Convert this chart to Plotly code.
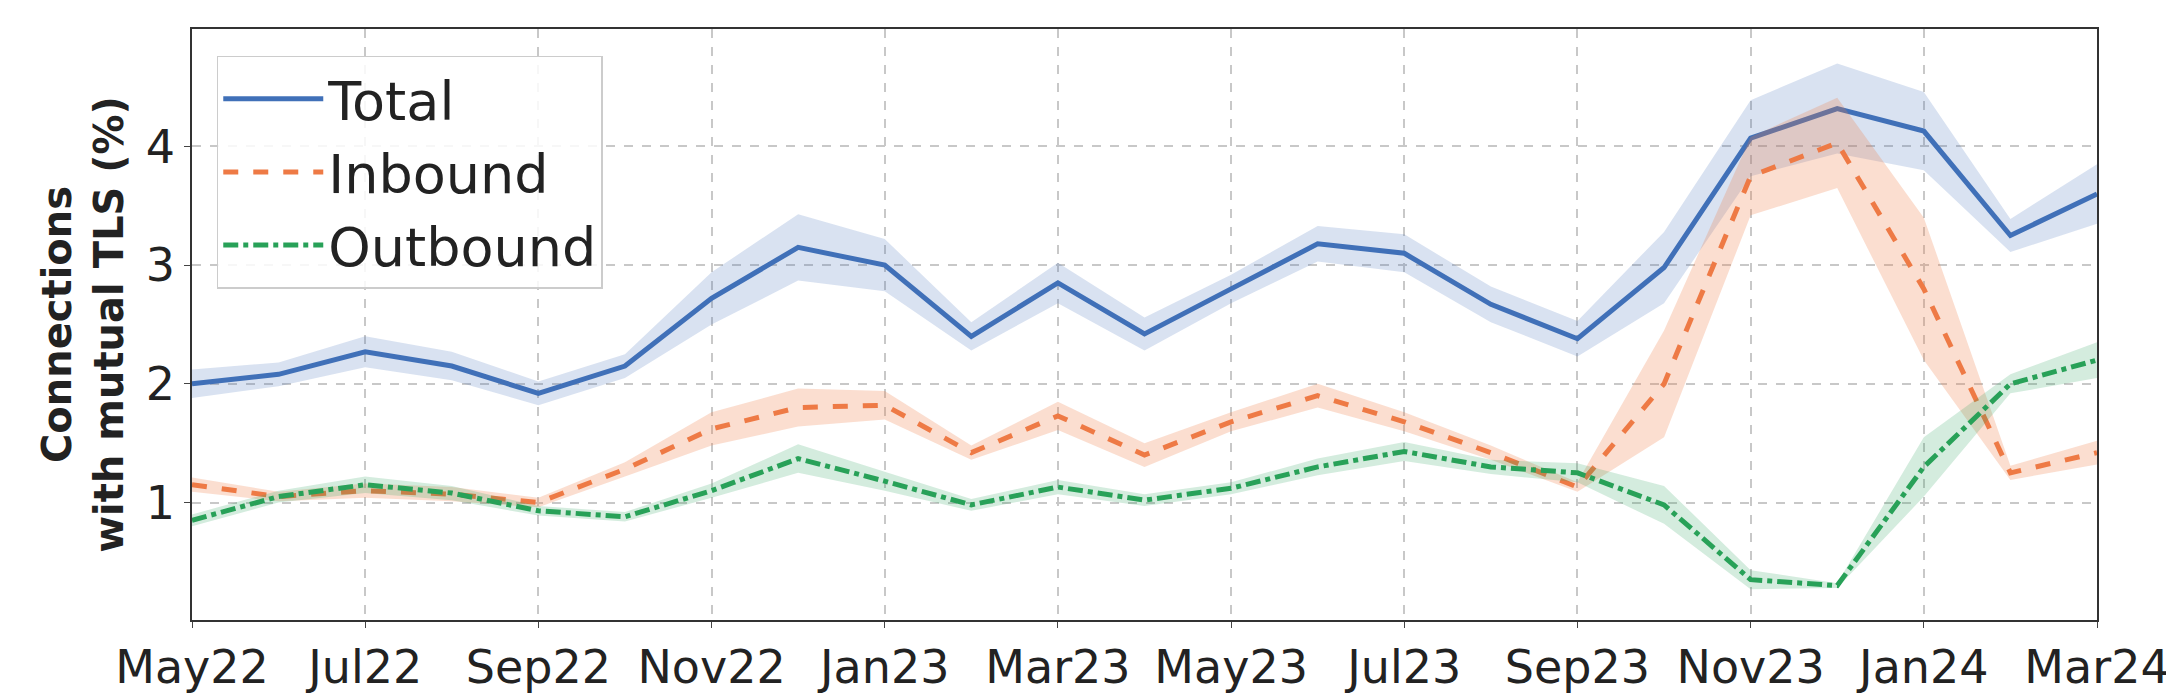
import plotly.graph_objects as go

months = ["May22","Jun22","Jul22","Aug22","Sep22","Oct22","Nov22","Dec22","Jan23","Feb23","Mar23","Apr23",
          "May23","Jun23","Jul23","Aug23","Sep23","Oct23","Nov23","Dec23","Jan24","Feb24","Mar24"]
total = [2.0,2.08,2.27,2.15,1.92,2.15,2.72,3.15,3.0,2.4,2.85,2.42,2.8,3.18,3.1,2.67,2.38,2.98,4.07,4.32,4.13,3.25,3.6]
total_err = [0.12,0.1,0.13,0.12,0.1,0.1,0.22,0.28,0.22,0.12,0.17,0.14,0.12,0.15,0.16,0.15,0.15,0.3,0.32,0.38,0.33,0.14,0.25]
inbound = [1.15,1.05,1.1,1.07,1.0,1.28,1.62,1.8,1.82,1.42,1.73,1.4,1.68,1.9,1.68,1.42,1.13,2.0,3.75,4.03,2.8,1.25,1.42]
inbound_err = [0.06,0.04,0.06,0.06,0.04,0.06,0.14,0.16,0.12,0.06,0.12,0.1,0.08,0.1,0.08,0.06,0.04,0.45,0.33,0.38,0.6,0.06,0.1]
outbound = [0.85,1.05,1.15,1.08,0.93,0.88,1.1,1.37,1.18,0.98,1.13,1.02,1.12,1.3,1.43,1.3,1.25,0.98,0.35,0.3,1.3,2.0,2.2]
outbound_err = [0.05,0.05,0.07,0.06,0.04,0.04,0.06,0.12,0.08,0.05,0.06,0.05,0.05,0.07,0.08,0.06,0.08,0.16,0.08,0.02,0.25,0.08,0.15]
tick_labels = ["May22","Jul22","Sep22","Nov22","Jan23","Mar23","May23","Jul23","Sep23","Nov23","Jan24","Mar24"]

series = [("Total", total, total_err, "#4070b8", "rgba(64,112,184,0.2)", "solid"),
          ("Inbound", inbound, inbound_err, "#ee7a45", "rgba(238,122,69,0.25)", "dash"),
          ("Outbound", outbound, outbound_err, "#28a158", "rgba(40,161,88,0.2)", "dashdot")]

x = list(range(len(months)))
fig = go.Figure()
for name, v, e, c, fc, d in series:
    up = [a + b for a, b in zip(v, e)]
    lo = [a - b for a, b in zip(v, e)]
    fig.add_trace(go.Scatter(x=x + x[::-1], y=up + lo[::-1], fill="toself", fillcolor=fc,
                             line=dict(width=0), hoverinfo="skip", showlegend=False))
    fig.add_trace(go.Scatter(x=x, y=v, mode="lines", name=name, line=dict(color=c, width=5, dash=d)))

fig.update_layout(
    width=2174, height=698, plot_bgcolor="white", paper_bgcolor="white",
    margin=dict(l=184, r=84, t=21, b=80),
    font=dict(family="DejaVu Sans", size=46, color="#222"),
    legend=dict(x=0.013, y=0.955, xanchor="left", yanchor="top", bgcolor="rgba(255,255,255,0.85)",
                bordercolor="#ccc", borderwidth=1.5, font=dict(size=54), itemwidth=100,
                tracegroupgap=12),
    xaxis=dict(range=[0, 22], tickvals=list(range(0, 23, 2)), ticktext=tick_labels,
               showgrid=True, gridcolor="#c8c8c8", griddash="dash", gridwidth=1.5,
               showline=True, linecolor="#333", mirror=True, linewidth=1.5,
               ticks="outside", ticklen=6, zeroline=False),
    yaxis=dict(range=[0.01, 4.99], tickvals=[1, 2, 3, 4], showgrid=True, gridcolor="#c8c8c8",
               griddash="dash", gridwidth=1.5, showline=True, linecolor="#333", mirror=True,
               linewidth=1.5, ticks="outside", ticklen=6, zeroline=False,
               title=dict(text="<b>Connections<br>with mutual TLS (%)</b>", font=dict(size=40), standoff=10)),
)
fig.write_html("out.html")
